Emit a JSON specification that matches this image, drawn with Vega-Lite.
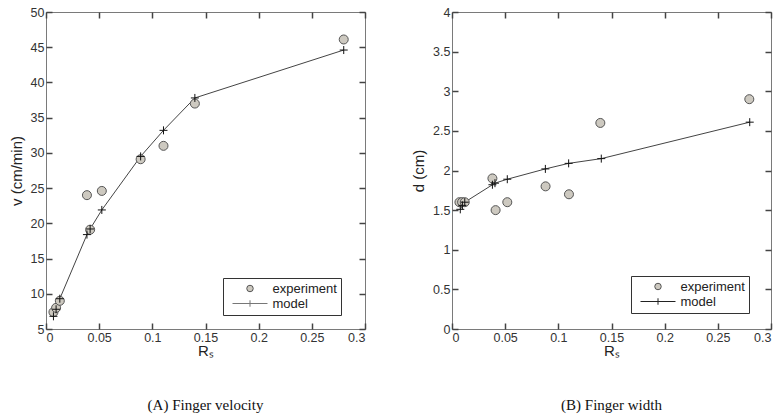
{
  "$schema": "https://vega.github.io/schema/vega-lite/v6.json",
  "padding": {"left": 8, "top": 5, "right": 5, "bottom": 5},
  "background": "white",
  "spacing": 44,
  "resolve": {"legend": {"shape": "independent", "fill": "independent", "stroke": "independent"}, "scale": {"shape": "independent", "fill": "independent", "stroke": "independent"}},
  "datasets": {
    "vel": [
      {"Rs": 0.007, "value": 7.4, "series": "experiment"},
      {"Rs": 0.0095, "value": 8.0, "series": "experiment"},
      {"Rs": 0.013, "value": 9.0, "series": "experiment"},
      {"Rs": 0.0385, "value": 24.0, "series": "experiment"},
      {"Rs": 0.0415, "value": 19.1, "series": "experiment"},
      {"Rs": 0.0525, "value": 24.6, "series": "experiment"},
      {"Rs": 0.089, "value": 29.1, "series": "experiment"},
      {"Rs": 0.1105, "value": 31.0, "series": "experiment"},
      {"Rs": 0.14, "value": 37.0, "series": "experiment"},
      {"Rs": 0.28, "value": 46.1, "series": "experiment"},
      {"Rs": 0.007, "value": 6.8, "series": "model"},
      {"Rs": 0.0095, "value": 7.8, "series": "model"},
      {"Rs": 0.013, "value": 9.3, "series": "model"},
      {"Rs": 0.0385, "value": 18.4, "series": "model"},
      {"Rs": 0.0415, "value": 19.2, "series": "model"},
      {"Rs": 0.0525, "value": 21.9, "series": "model"},
      {"Rs": 0.089, "value": 29.5, "series": "model"},
      {"Rs": 0.1105, "value": 33.2, "series": "model"},
      {"Rs": 0.14, "value": 37.8, "series": "model"},
      {"Rs": 0.28, "value": 44.6, "series": "model"}
    ],
    "wid": [
      {"Rs": 0.007, "value": 1.6, "series": "experiment"},
      {"Rs": 0.0095, "value": 1.6, "series": "experiment"},
      {"Rs": 0.012, "value": 1.6, "series": "experiment"},
      {"Rs": 0.038, "value": 1.9, "series": "experiment"},
      {"Rs": 0.041, "value": 1.5, "series": "experiment"},
      {"Rs": 0.052, "value": 1.6, "series": "experiment"},
      {"Rs": 0.088, "value": 1.8, "series": "experiment"},
      {"Rs": 0.110, "value": 1.7, "series": "experiment"},
      {"Rs": 0.1395, "value": 2.6, "series": "experiment"},
      {"Rs": 0.2796, "value": 2.9, "series": "experiment"},
      {"Rs": 0.0078, "value": 1.51, "series": "model"},
      {"Rs": 0.0098, "value": 1.56, "series": "model"},
      {"Rs": 0.012, "value": 1.6, "series": "model"},
      {"Rs": 0.038, "value": 1.82, "series": "model"},
      {"Rs": 0.0404, "value": 1.84, "series": "model"},
      {"Rs": 0.052, "value": 1.89, "series": "model"},
      {"Rs": 0.0878, "value": 2.02, "series": "model"},
      {"Rs": 0.1097, "value": 2.09, "series": "model"},
      {"Rs": 0.1404, "value": 2.15, "series": "model"},
      {"Rs": 0.28, "value": 2.61, "series": "model"}
    ]
  },
  "hconcat": [
    {
      "width": 319,
      "height": 317,
      "data": {"name": "vel"},
      "title": {"text": "(A) Finger velocity", "orient": "bottom", "anchor": "middle", "font": "Liberation Serif", "fontSize": 15, "fontWeight": "normal", "color": "#111", "offset": 39},
      "resolve": {"axis": {"x": "independent", "y": "independent"}},
      "layer": [
        {
          "transform": [{"filter": "datum.series === 'model'"}],
          "mark": {"type": "line", "color": "#444444", "strokeWidth": 1},
          "encoding": {
            "x": {"field": "Rs", "type": "quantitative", "scale": {"domain": [0, 0.3], "nice": false, "zero": false},
                  "axis": {"title": "Rₛ", "values": [0, 0.05, 0.1, 0.15, 0.2, 0.25, 0.3], "format": "~g", "ticks": true, "tickSize": -6, "tickColor": "#444444", "tickWidth": 1.5, "zindex": 1, "labelPadding": 8}},
            "y": {"field": "value", "type": "quantitative", "scale": {"domain": [5, 50], "nice": false, "zero": false},
                  "axis": {"title": "v (cm/min)", "values": [5, 10, 15, 20, 25, 30, 35, 40, 45, 50], "format": "~g", "ticks": true, "tickSize": -6, "tickColor": "#444444", "tickWidth": 1.5, "zindex": 1, "labelPadding": 8}}
          }
        },
        {
          "transform": [{"filter": "datum.series === 'experiment'"}],
          "mark": {"type": "point", "filled": true, "strokeWidth": 1, "opacity": 1, "size": 81},
          "encoding": {
            "x": {"field": "Rs", "type": "quantitative", "axis": {"orient": "top", "labels": false, "title": null, "values": [0, 0.05, 0.1, 0.15, 0.2, 0.25, 0.3], "ticks": true, "tickSize": -6, "tickColor": "#444444", "tickWidth": 1.5, "zindex": 1}},
            "y": {"field": "value", "type": "quantitative", "axis": {"orient": "right", "labels": false, "title": null, "values": [5, 10, 15, 20, 25, 30, 35, 40, 45, 50], "ticks": true, "tickSize": -6, "tickColor": "#444444", "tickWidth": 1.5, "zindex": 1}},
            "shape": {"field": "series", "type": "nominal", "scale": {"domain": ["experiment", "model"], "range": ["circle", "M-5.4,0L5.4,0M0,-1L0,1"]},
                      "legend": {"title": null, "orient": "none", "legendX": 177, "legendY": 266, "strokeColor": "#333", "fillColor": "white", "padding": 4, "symbolSize": 42, "symbolStrokeWidth": 1, "labelFontSize": 13, "labelColor": "#222", "labelFont": "Liberation Sans", "symbolOffset": 16.5, "labelOffset": 16, "rowPadding": 1,
                        "labelExpr": "datum.label + '      '"}},
            "fill": {"field": "series", "type": "nominal", "scale": {"domain": ["experiment", "model"], "range": ["#cdc9c0", "transparent"]}},
            "stroke": {"field": "series", "type": "nominal", "scale": {"domain": ["experiment", "model"], "range": ["#555555", "#777777"]}}
          }
        },
        {
          "transform": [{"filter": "datum.series === 'model'"}],
          "mark": {"type": "point", "shape": "M-1,0L1,0M0,-1L0,1", "size": 64, "filled": false, "color": "#111111", "strokeWidth": 1, "opacity": 1},
          "encoding": {
            "x": {"field": "Rs", "type": "quantitative", "axis": null},
            "y": {"field": "value", "type": "quantitative", "axis": null}
          }
        }
      ]
    },
    {
      "width": 319,
      "height": 317,
      "data": {"name": "wid"},
      "title": {"text": "(B) Finger width", "orient": "bottom", "anchor": "middle", "font": "Liberation Serif", "fontSize": 15, "fontWeight": "normal", "color": "#111", "offset": 39},
      "resolve": {"axis": {"x": "independent", "y": "independent"}},
      "layer": [
        {
          "transform": [{"filter": "datum.series === 'model'"}],
          "mark": {"type": "line", "color": "#444444", "strokeWidth": 1},
          "encoding": {
            "x": {"field": "Rs", "type": "quantitative", "scale": {"domain": [0, 0.3], "nice": false, "zero": false},
                  "axis": {"title": "Rₛ", "values": [0, 0.05, 0.1, 0.15, 0.2, 0.25, 0.3], "format": "~g", "ticks": true, "tickSize": -6, "tickColor": "#444444", "tickWidth": 1.5, "zindex": 1, "labelPadding": 8}},
            "y": {"field": "value", "type": "quantitative", "scale": {"domain": [0, 4], "nice": false, "zero": false},
                  "axis": {"title": "d (cm)", "values": [0, 0.5, 1, 1.5, 2, 2.5, 3, 3.5, 4], "format": "~g", "ticks": true, "tickSize": -6, "tickColor": "#444444", "tickWidth": 1.5, "zindex": 1, "labelPadding": 8}}
          }
        },
        {
          "transform": [{"filter": "datum.series === 'experiment'"}],
          "mark": {"type": "point", "filled": true, "strokeWidth": 1, "opacity": 1, "size": 81},
          "encoding": {
            "x": {"field": "Rs", "type": "quantitative", "axis": {"orient": "top", "labels": false, "title": null, "values": [0, 0.05, 0.1, 0.15, 0.2, 0.25, 0.3], "ticks": true, "tickSize": -6, "tickColor": "#444444", "tickWidth": 1.5, "zindex": 1}},
            "y": {"field": "value", "type": "quantitative", "axis": {"orient": "right", "labels": false, "title": null, "values": [0, 0.5, 1, 1.5, 2, 2.5, 3, 3.5, 4], "ticks": true, "tickSize": -6, "tickColor": "#444444", "tickWidth": 1.5, "zindex": 1}},
            "shape": {"field": "series", "type": "nominal", "scale": {"domain": ["experiment", "model"], "range": ["circle", "M-5.4,0L5.4,0M0,-1L0,1"]},
                      "legend": {"title": null, "orient": "none", "legendX": 179, "legendY": 264, "strokeColor": "#333", "fillColor": "white", "padding": 4, "symbolSize": 42, "symbolStrokeWidth": 1, "labelFontSize": 13, "labelColor": "#222", "labelFont": "Liberation Sans", "symbolOffset": 16.5, "labelOffset": 16, "rowPadding": 1,
                        "labelExpr": "datum.label + '      '"}},
            "fill": {"field": "series", "type": "nominal", "scale": {"domain": ["experiment", "model"], "range": ["#cdc9c0", "transparent"]}},
            "stroke": {"field": "series", "type": "nominal", "scale": {"domain": ["experiment", "model"], "range": ["#555555", "#222222"]}}
          }
        },
        {
          "transform": [{"filter": "datum.series === 'model'"}],
          "mark": {"type": "point", "shape": "M-1,0L1,0M0,-1L0,1", "size": 64, "filled": false, "color": "#111111", "strokeWidth": 1, "opacity": 1},
          "encoding": {
            "x": {"field": "Rs", "type": "quantitative", "axis": null},
            "y": {"field": "value", "type": "quantitative", "axis": null}
          }
        }
      ]
    }
  ],
  "config": {
    "view": {"stroke": "#7a7a7a", "strokeWidth": 1},
    "axis": {
      "grid": false,
      "domain": false,
      "labelFont": "Liberation Sans",
      "labelFontSize": 12.5,
      "labelColor": "#333333",
      "titleFont": "Liberation Sans",
      "titleFontWeight": "normal",
      "titleColor": "#222222",
      "titleFontSize": 15
    },
    "axisX": {"titlePadding": 0},
    "axisY": {"titlePadding": 6}
  }
}
